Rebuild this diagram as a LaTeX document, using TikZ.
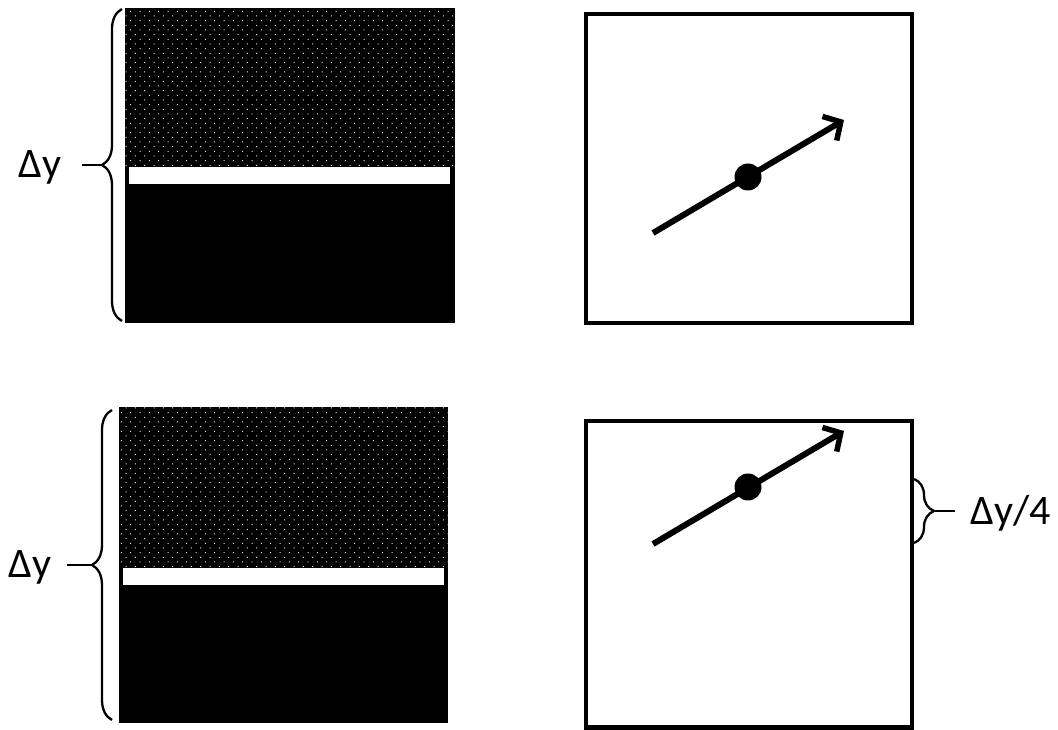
\documentclass[tikz,border=0pt]{standalone}
\usepackage{fontspec}
\setmainfont{Carlito}
\usetikzlibrary{decorations.pathreplacing,arrows.meta,patterns.meta}
\tikzset{
  darkbox/.style={fill=black},
  dotfill/.style={pattern={Dots[distance=6.6pt,angle=45,radius=0.7pt]},pattern color=white!90!black},
  gapbar/.style={fill=white},
  framebox/.style={draw=black,line width=4.5pt,fill=white},
  vecline/.style={line width=6pt,-{Straight Barb[length=13pt,width=28pt,line width=5.5pt]}},
  centredot/.style={circle,fill=black,inner sep=0pt,minimum size=27pt},
  bracestyle/.style={draw=black,line width=2.3pt,decorate,decoration={brace,amplitude=20pt}},
  tick/.style={draw=black,line width=2.3pt},
  lbl/.style={font=\fontsize{42}{46}\selectfont,inner sep=0pt}
}
\begin{document}
\begin{tikzpicture}[x=1pt,y=1pt]
\useasboundingbox (0,0) rectangle (1058,730);
\fill[white] (0,0) rectangle (1058,730);

% top-left panel
\fill[darkbox] (125,407) rectangle (455,722);
\fill[dotfill] (125,563) rectangle (455,722);
\fill[gapbar] (129,546) rectangle (450,563);
\draw[bracestyle] (122,409) -- (122,721);
\coordinate (tlTip) at (101,565);
\node[lbl] (tlLab) at (40,563) {Δy};
\draw[tick] (82,565) -- (tlTip);

% bottom-left panel
\fill[darkbox] (119,7) rectangle (448,323);
\fill[dotfill] (119,162) rectangle (448,323);
\fill[gapbar] (123,145) rectangle (444,162);
\draw[bracestyle] (112,10) -- (112,320);
\coordinate (blTip) at (91,165);
\node[lbl] (blLab) at (30,163) {Δy};
\draw[tick] (67,165) -- (blTip);

% top-right panel
\draw[framebox] (586,407) rectangle (912,716);
\coordinate (trA) at (653,497);
\coordinate (trB) at (844,610);
\draw[vecline] (trA) -- (trB);
\node[centredot] (trDot) at (748,553) {};

% bottom-right panel
\draw[framebox] (586,2.5) rectangle (912,309);
\coordinate (brA) at (653,186);
\coordinate (brB) at (844,299);
\draw[vecline] (brA) -- (brB);
\node[centredot] (brDot) at (748,243) {};
\draw[bracestyle] (914,251) -- (914,187);
\coordinate (brTip) at (934,219);
\node[lbl] (brLab) at (1011,217) {Δy/4};
\draw[tick] (brTip) -- (955,219);
\end{tikzpicture}
\end{document}
